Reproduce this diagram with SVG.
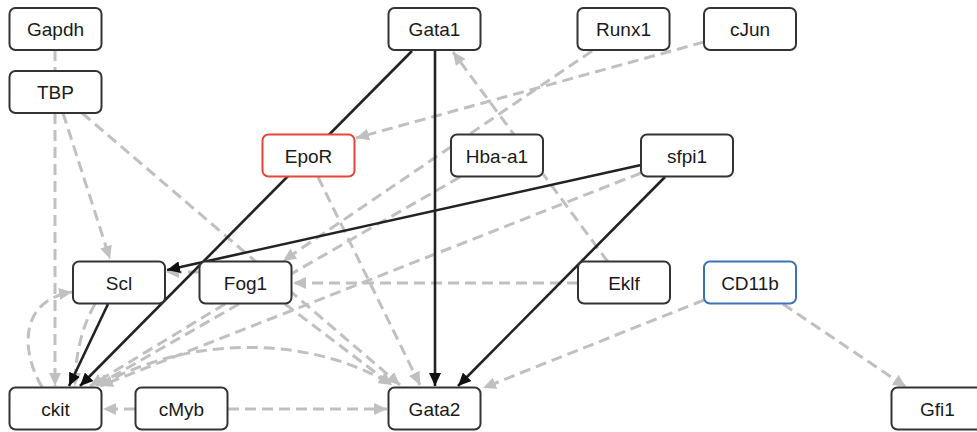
<svg xmlns="http://www.w3.org/2000/svg" width="977" height="432" viewBox="0 0 977 432">
  <style>
    .node rect { fill: #ffffff; stroke: #333333; stroke-width: 2; }
    .node text { font-family: "Liberation Sans", Arial, sans-serif; font-size: 19px; fill: #1a1a1a; text-anchor: middle; }
    .red rect { stroke: #e8453c; }
    .blue rect { stroke: #3a72b8; }
    .solid { fill: none; stroke: #222222; stroke-width: 2.6; }
    .dash { fill: none; stroke: #c0c0c0; stroke-width: 3; stroke-dasharray: 11 6; }
  </style>
  <defs>
    <marker id="arrowBlack" markerUnits="userSpaceOnUse" markerWidth="14" markerHeight="12" refX="13" refY="6" orient="auto">
      <path d="M0,0 L13,6 L0,12 z" fill="#111111"/>
    </marker>
    <marker id="arrowGray" markerUnits="userSpaceOnUse" markerWidth="14" markerHeight="12" refX="13" refY="6" orient="auto">
      <path d="M0,0 L13,6 L0,12 z" fill="#c0c0c0"/>
    </marker>
  </defs>

  <rect width="977" height="432" fill="#ffffff"/>

  <g id="connectors">
    <!-- dashed grey interactions -->
    <path class="dash" d="M55,50 L55,71"/>
    <path class="dash" d="M55,113 L55,386" marker-end="url(#arrowGray)"/>
    <path class="dash" d="M63,113 L110,259" marker-end="url(#arrowGray)"/>
    <path class="dash" d="M82,113 L400,385" marker-end="url(#arrowGray)"/>
    <path class="dash" d="M704,42 L356,138" marker-end="url(#arrowGray)"/>
    <path class="dash" d="M592,51 L283,261" marker-end="url(#arrowGray)"/>
    <path class="dash" d="M318,177 L420,385" marker-end="url(#arrowGray)"/>
    <path class="dash" d="M460,177 L96,386" marker-end="url(#arrowGray)"/>
    <path class="dash" d="M641,173 L100,386" marker-end="url(#arrowGray)"/>
    <path class="dash" d="M608,262 L453,52" marker-end="url(#arrowGray)"/>
    <path class="dash" d="M578,283 L293,283" marker-end="url(#arrowGray)"/>
    <path class="dash" d="M199,272 L166,272" marker-end="url(#arrowGray)"/>
    <path class="dash" d="M225,304 L90,386" marker-end="url(#arrowGray)"/>
    <path class="dash" d="M285,304 L392,385" marker-end="url(#arrowGray)"/>
    <path class="dash" d="M704,300 L483,388" marker-end="url(#arrowGray)"/>
    <path class="dash" d="M783,304 L906,387" marker-end="url(#arrowGray)"/>
    <path class="dash" d="M135,409 L103,409" marker-end="url(#arrowGray)"/>
    <path class="dash" d="M228,409 L387,409" marker-end="url(#arrowGray)"/>
    <path class="dash" d="M100,385 C200,330 320,340 392,385" marker-end="url(#arrowGray)"/>
    <path class="dash" d="M42,387 C20,350 20,300 72,292" marker-end="url(#arrowGray)"/>
    <path class="dash" d="M95,304 C80,330 75,360 75,386" marker-end="url(#arrowGray)"/>

    <!-- solid black interactions -->
    <path class="solid" d="M412,51 L80,386" marker-end="url(#arrowBlack)"/>
    <path class="solid" d="M435,50 L435,386" marker-end="url(#arrowBlack)"/>
    <path class="solid" d="M641,165 L167,270" marker-end="url(#arrowBlack)"/>
    <path class="solid" d="M665,177 L458,386" marker-end="url(#arrowBlack)"/>
    <path class="solid" d="M108,304 L69,386" marker-end="url(#arrowBlack)"/>
  </g>

  <g id="Gapdh" class="node"><rect x="9.5" y="8" width="92" height="42" rx="6"/><text x="55.5" y="36">Gapdh</text></g>
  <g id="TBP" class="node"><rect x="9.5" y="71" width="92" height="42" rx="6"/><text x="55.5" y="99">TBP</text></g>
  <g id="Gata1" class="node"><rect x="388.5" y="8" width="92" height="42" rx="6"/><text x="434.5" y="36">Gata1</text></g>
  <g id="Runx1" class="node"><rect x="577.5" y="8" width="92" height="42" rx="6"/><text x="623.5" y="36">Runx1</text></g>
  <g id="cJun" class="node"><rect x="704" y="8" width="92" height="42" rx="6"/><text x="750" y="36">cJun</text></g>
  <g id="EpoR" class="node red"><rect x="262.5" y="134.5" width="92" height="42" rx="6"/><text x="308.5" y="162.5">EpoR</text></g>
  <g id="Hba-a1" class="node"><rect x="451" y="134.5" width="92" height="42" rx="6"/><text x="497" y="162.5">Hba-a1</text></g>
  <g id="sfpi1" class="node"><rect x="641" y="134.5" width="92" height="42" rx="6"/><text x="687" y="162.5">sfpi1</text></g>
  <g id="Scl" class="node"><rect x="73" y="261.5" width="92" height="42" rx="6"/><text x="119" y="289.5">Scl</text></g>
  <g id="Fog1" class="node"><rect x="199.5" y="261.5" width="92" height="42" rx="6"/><text x="245.5" y="289.5">Fog1</text></g>
  <g id="Eklf" class="node"><rect x="578" y="261.5" width="92" height="42" rx="6"/><text x="624" y="289.5">Eklf</text></g>
  <g id="CD11b" class="node blue"><rect x="704" y="261.5" width="92" height="42" rx="6"/><text x="750" y="289.5">CD11b</text></g>
  <g id="ckit" class="node"><rect x="9.5" y="387.5" width="92" height="42" rx="6"/><text x="55.5" y="415.5">ckit</text></g>
  <g id="cMyb" class="node"><rect x="135.5" y="387.5" width="92" height="42" rx="6"/><text x="181.5" y="415.5">cMyb</text></g>
  <g id="Gata2" class="node"><rect x="388.5" y="387.5" width="92" height="42" rx="6"/><text x="434.5" y="415.5">Gata2</text></g>
  <g id="Gfi1" class="node"><rect x="891.5" y="387.5" width="92" height="42" rx="6"/><text x="937.5" y="415.5">Gfi1</text></g>
</svg>
